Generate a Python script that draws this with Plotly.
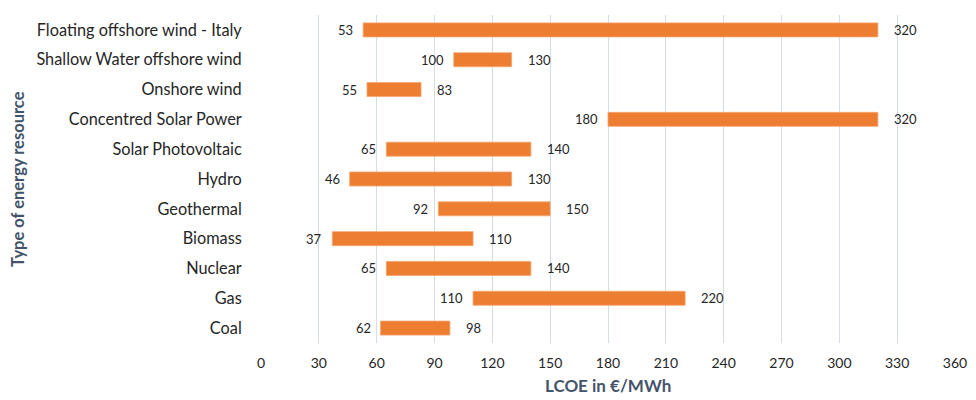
import plotly.graph_objects as go

# LCOE ranges per energy resource (€/MWh)
resources = [
    "Floating offshore wind - Italy",
    "Shallow Water offshore wind",
    "Onshore wind",
    "Concentred Solar Power",
    "Solar Photovoltaic",
    "Hydro",
    "Geothermal",
    "Biomass",
    "Nuclear",
    "Gas",
    "Coal",
]
lcoe_min = [53, 100, 55, 180, 65, 46, 92, 37, 65, 110, 62]
lcoe_max = [320, 130, 83, 320, 140, 130, 150, 110, 140, 220, 98]
x_ticks = [0, 30, 60, 90, 120, 150, 180, 210, 240, 270, 300, 330, 360]

FONT = "Lato"
TEXT = "#262626"
TITLE = "#44546A"
BAR = "#ED7D31"

fig = go.Figure()
fig.add_trace(go.Bar(
    y=resources,
    x=[hi - lo for lo, hi in zip(lcoe_min, lcoe_max)],
    base=lcoe_min,
    orientation="h",
    width=0.47,
    marker=dict(color=BAR, line=dict(color="#F4A46E", width=0.8)),
    hoverinfo="skip",
))

# value labels: minimum left of the bar, maximum right of it
for name, lo, hi in zip(resources, lcoe_min, lcoe_max):
    fig.add_annotation(x=lo, y=name, text=str(lo), showarrow=False,
                       xanchor="right", xshift=-8,
                       font=dict(family=FONT, size=13, color=TEXT))
    fig.add_annotation(x=hi, y=name, text=str(hi), showarrow=False,
                       xanchor="left", xshift=14,
                       font=dict(family=FONT, size=13, color=TEXT))

# axis titles
fig.add_annotation(text="<b>LCOE in €/MWh</b>", xref="paper", yref="paper",
                   x=0.5, y=-0.131, xanchor="center", yanchor="middle",
                   showarrow=False, font=dict(family=FONT, size=17, color=TITLE))
fig.add_annotation(text="<b>Type of energy resource</b>", xref="paper", yref="paper",
                   x=-0.350, y=0.5, xanchor="center", yanchor="middle", textangle=-90,
                   showarrow=False, font=dict(family=FONT, size=16.5, color=TITLE))

fig.update_layout(
    width=976, height=400,
    margin=dict(l=261, r=21, t=15, b=57),
    paper_bgcolor="white", plot_bgcolor="white",
    showlegend=False,
    font=dict(family=FONT, color=TEXT),
    xaxis=dict(
        range=[0, 360], tickvals=x_ticks, ticktext=[str(v) for v in x_ticks],
        showgrid=True, gridcolor="#D6DCE5", gridwidth=1,
        zeroline=False, showline=False, automargin=False,
        ticks="outside", ticklen=7, tickcolor="rgba(0,0,0,0)",
        tickfont=dict(family=FONT, size=14, color=TEXT),
        fixedrange=True,
    ),
    yaxis=dict(
        categoryorder="array", categoryarray=resources, autorange="reversed",
        showgrid=False, zeroline=False, showline=False, automargin=False,
        ticks="outside", ticklen=15, tickcolor="rgba(0,0,0,0)",
        tickfont=dict(family=FONT, size=16.3, color=TEXT),
        fixedrange=True,
    ),
)

fig.write_html("out.html", config={"displayModeBar": False})
